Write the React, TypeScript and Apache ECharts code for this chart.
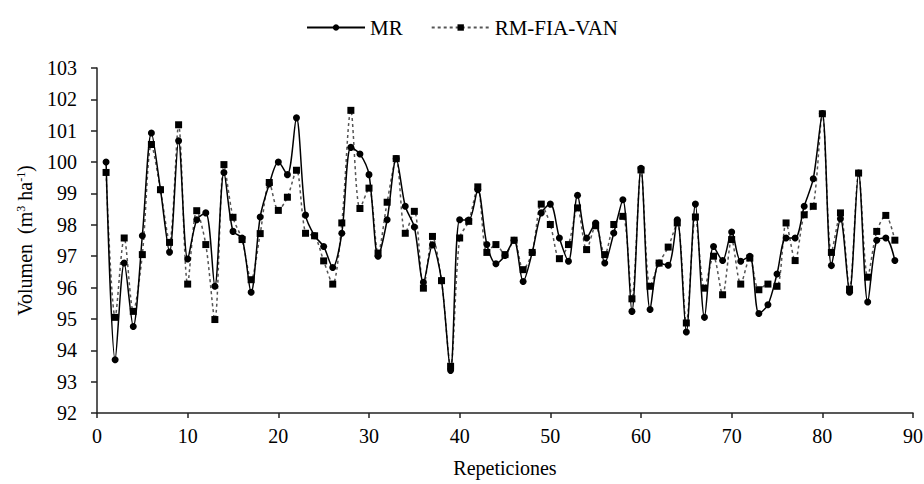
import React, { useEffect, useRef } from "react";
import * as echarts from "echarts";

const mrValues: number[] = [
  100.0, 93.7, 96.78, 94.76, 97.65, 100.93, 99.12, 97.13, 100.68, 96.91,
  98.16, 98.38, 96.04, 99.67, 97.79, 97.58, 95.85, 98.25, 99.3, 100.0,
  99.6, 101.41, 98.31, 97.65, 97.31, 96.64, 97.73, 100.47, 100.26, 99.6,
  97.0, 98.16, 100.11, 98.59, 97.93, 96.17, 97.36, 96.22, 93.36, 98.16,
  98.15, 99.12, 97.37, 96.76, 97.02, 97.51, 96.19, 97.12, 98.38, 98.66,
  97.58, 96.84, 98.94, 97.58, 98.06, 96.78, 97.74, 98.8, 95.24, 99.8,
  95.3, 96.78, 96.71, 98.16, 94.58, 98.66, 95.05, 97.31, 96.86, 97.77,
  96.84, 97.0, 95.17, 95.45, 96.43, 97.58, 97.58, 98.59, 99.47, 101.55,
  96.7, 98.19, 95.85, 99.65, 95.54, 97.51, 97.58, 96.86,
];

const rmValues: number[] = [
  99.67, 95.05, 97.58, 95.24, 97.05, 100.56, 99.12, 97.44, 101.19, 96.11,
  98.45, 97.37, 94.98, 99.92, 98.24, 97.53, 96.25, 97.72, 99.35, 98.46,
  98.88, 99.74, 97.73, 97.65, 96.85, 96.11, 98.06, 101.65, 98.52, 99.17,
  97.1, 98.72, 100.11, 97.73, 98.43, 95.98, 97.63, 96.22, 93.49, 97.58,
  98.11, 99.21, 97.12, 97.37, 97.05, 97.51, 96.57, 97.12, 98.66, 98.01,
  96.92, 97.37, 98.54, 97.21, 97.97, 97.05, 98.01, 98.27, 95.64, 99.75,
  96.04, 96.78, 97.29, 98.06, 94.87, 98.25, 95.98, 97.0, 95.77, 97.53,
  96.11, 96.94, 95.93, 96.11, 96.04, 98.06, 96.86, 98.32, 98.59, 101.54,
  97.12, 98.38, 95.95, 99.65, 96.33, 97.79, 98.3, 97.51,
];

const seriesNames = ["MR", "RM-FIA-VAN"];
const xTitle = "Repeticiones";
const yTitle = "Volumen  (m{sup|3} ha{sup|-1})";

const FONT = "Liberation Serif";

export default function App() {
  const ref = useRef<HTMLDivElement | null>(null);

  useEffect(() => {
    if (!ref.current) return;
    const chart = echarts.init(ref.current, undefined, { renderer: "svg" });
    const toPairs = (arr: number[]) => arr.map((v, i) => [i + 1, v]);
    chart.setOption({
      animation: false,
      backgroundColor: "#ffffff",
      textStyle: { fontFamily: FONT, color: "#000" },
      legend: {
        top: 12,
        left: "center",
        itemWidth: 58,
        itemHeight: 8,
        itemGap: 28,
        textStyle: { fontFamily: FONT, fontSize: 21, color: "#000" },
        data: seriesNames,
      },
      grid: {
        left: 97,
        right: 11,
        top: 68,
        bottom: 71,
        containLabel: false,
        outerBoundsMode: "none",
      },
      xAxis: {
        type: "value",
        min: 0,
        max: 90,
        interval: 10,
        name: xTitle,
        nameLocation: "middle",
        nameGap: 45,
        nameTextStyle: { fontFamily: FONT, fontSize: 20, color: "#000" },
        axisLine: { show: true, onZero: false, lineStyle: { color: "#222", width: 1.5 } },
        axisTick: { show: true, inside: false, length: 5, lineStyle: { color: "#222", width: 1.5 } },
        axisLabel: { fontFamily: FONT, fontSize: 20, color: "#000", margin: 13 },
        splitLine: { show: false },
      },
      yAxis: {
        type: "value",
        min: 92,
        max: 103,
        interval: 1,
        name: yTitle,
        nameLocation: "middle",
        nameRotate: 90,
        nameGap: 62,
        nameTextStyle: {
          fontFamily: FONT,
          fontSize: 20,
          color: "#000",
          rich: {
            sup: { fontFamily: FONT, fontSize: 12, color: "#000", verticalAlign: "top" },
          },
        },
        axisLine: { show: true, lineStyle: { color: "#222", width: 1.5 } },
        axisTick: { show: true, inside: false, length: 6, lineStyle: { color: "#222", width: 1.5 } },
        axisLabel: { fontFamily: FONT, fontSize: 20, color: "#000", margin: 20 },
        splitLine: { show: false },
      },
      series: [
        {
          name: seriesNames[0],
          type: "line",
          data: toPairs(mrValues),
          smooth: 0.3,
          symbol: "circle",
          symbolSize: 7,
          itemStyle: { color: "#000" },
          lineStyle: { color: "#000", width: 1.5, type: "solid" },
          z: 3,
        },
        {
          name: seriesNames[1],
          type: "line",
          data: toPairs(rmValues),
          smooth: 0.3,
          symbol: "rect",
          symbolSize: 7,
          itemStyle: { color: "#000" },
          lineStyle: { color: "#555", width: 1.5, type: [3, 3] },
          z: 2,
        },
      ],
    });
    return () => chart.dispose();
  }, []);

  return (
    <div
      ref={ref}
      style={{ position: "absolute", left: 0, top: 0, width: 924, height: 484 }}
    />
  );
}
